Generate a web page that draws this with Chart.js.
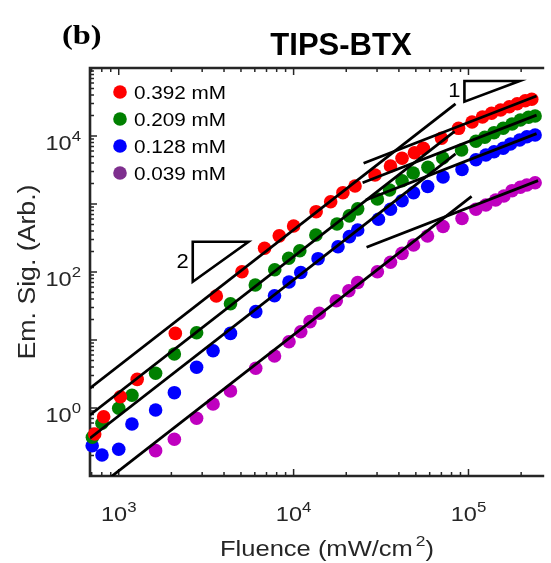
<!DOCTYPE html>
<html>
<head>
<meta charset="utf-8">
<title>TIPS-BTX</title>
<script src="https://cdn.jsdelivr.net/npm/chart.js@4.4.0/dist/chart.umd.min.js"></script>
<style>
  html, body { margin: 0; padding: 0; background: #fff; }
</style>
</head>
<body>
<canvas id="grafik" width="551" height="563"></canvas>
<script>
// Data: fluence (mW/cm2) dan sinyal emisi (Arb.)
const fluence392 = [729, 820, 1022, 1275, 2107, 3614, 5066, 6823, 8277, 10000, 13450, 16290, 19140, 22450, 29210, 35810, 41690, 49090, 55190, 70110, 87740, 104800, 120200, 135500, 152700, 171200, 189900, 211200, 230100];
const signal392 = [0.415, 0.745, 1.466, 2.64, 12.5, 44.4, 101, 223, 340, 475, 771, 1081, 1467, 1840, 2669, 3622, 4700, 5678, 6586, 9250, 12970, 16070, 19030, 21570, 24110, 26970, 29870, 33040, 34660];

const fluence209 = [707, 802, 1000, 1190, 1625, 2080, 2788, 4355, 6037, 7799, 9376, 10850, 13410, 17700, 20830, 23250, 30130, 35370, 41690, 48290, 58660, 71230, 91300, 110300, 124000, 140000, 157900, 177500, 197900, 220400, 240400];
const signal209 = [0.371, 0.596, 0.99, 1.54, 3.24, 6.22, 12.8, 34.2, 64.4, 108, 159, 205, 350, 508, 670, 849, 1185, 1607, 2194, 2857, 3466, 4747, 6223, 8356, 9570, 11190, 12980, 15010, 17180, 18840, 19680];

const fluence128 = [705, 802, 1000, 1190, 1625, 2080, 2788, 3463, 4355, 6074, 7776, 9408, 10990, 13800, 17940, 20850, 23250, 30560, 35810, 41690, 48480, 58450, 71540, 91830, 110300, 125700, 140000, 157900, 173800, 196200, 215700, 240400];
const signal128 = [0.279, 0.204, 0.247, 0.582, 0.935, 1.68, 3.97, 6.96, 12.5, 26.1, 44.8, 71.3, 98.4, 157, 235, 331, 415, 596, 836, 1119, 1466, 1808, 2494, 3214, 4478, 5254, 5878, 6594, 7625, 8730, 9770, 10340];

const fluence039 = [1625, 2080, 2788, 3463, 4355, 6074, 7776, 9408, 10990, 12410, 14020, 17540, 20690, 23250, 30130, 35810, 41690, 48480, 58290, 71540, 91830, 110300, 125700, 143000, 159400, 177500, 197900, 215700, 240400];
const signal039 = [0.236, 0.347, 0.706, 1.145, 1.78, 3.84, 5.82, 9.44, 13.2, 18.6, 24.7, 37.8, 53.1, 70.1, 101, 139, 188, 250, 338, 467, 612, 836, 967, 1145, 1312, 1570, 1762, 1903, 2057];

const seriesLabels = ['0.392 mM', '0.209 mM', '0.128 mM', '0.039 mM'];
const seriesColors = ['#ff0000', '#008000', '#0000ff', '#bf00bf'];
const legendColors = ['#ff0000', '#008000', '#0000ff', '#7e2f8e'];

// Garis fit: kemiringan 2 (fluence rendah) dan kemiringan 1 (fluence tinggi), titik ujung
const fitSlope2X = [[685, 84300], [685, 83300], [685, 84300], [886, 104200]];
const fitSlope2Y = [[1.956, 29620], [0.7916, 11706], [0.3597, 5447], [0.0935, 1292]];
const fitSlope1X = [[25130, 245000], [24810, 245000], [25900, 245000], [26130, 250000]];
const fitSlope1Y = [[3968, 38690], [2057, 20310], [1145, 10830], [230.8, 2208]];

// Segitiga penanda kemiringan [x kiri, x kanan], [y bawah, y atas]
const triSlope2 = { x: [2650, 5520], y: [72, 279], label: '2' };
const triSlope1 = { x: [94800, 196200], y: [31950, 64400], label: '1' };

// Label sumbu (eksponen 10^n)
const xTickExp = [3, 4, 5];
const yTickExp = [0, 2, 4];
const xRange = [685, 271000];
const yRange = [0.1, 100000];

const FONT = '"Liberation Sans", Arial, Helvetica, sans-serif';
const AXIS_COLOR = '#262626';

function gabung(xs, ys) {
  return xs.map((x, i) => ({ x: x, y: ys[i] }));
}

// Tulis teks dengan skala horizontal
function tulis(ctx, text, x, y, font, sx, align) {
  ctx.save();
  ctx.font = font;
  const w = ctx.measureText(text).width * sx;
  let x0 = x;
  if (align === 'center') x0 = x - w / 2;
  else if (align === 'right') x0 = x - w;
  ctx.translate(x0, y);
  ctx.scale(sx, 1);
  ctx.textAlign = 'left';
  ctx.textBaseline = 'alphabetic';
  ctx.fillText(text, 0, 0);
  ctx.restore();
  return w;
}

function lebar(ctx, text, font, sx) {
  ctx.save();
  ctx.font = font;
  const w = ctx.measureText(text).width * sx;
  ctx.restore();
  return w;
}

// "10" dengan pangkat
function tulisPangkat(ctx, exp, x, y, align) {
  const fBase = '21px ' + FONT, fExp = '15px ' + FONT, sx = 1.12;
  const w1 = lebar(ctx, '10', fBase, sx);
  const w2 = lebar(ctx, String(exp), fExp, sx);
  let x0 = x;
  if (align === 'center') x0 = x - (w1 + w2) / 2;
  else if (align === 'right') x0 = x - (w1 + w2);
  tulis(ctx, '10', x0, y, fBase, sx, 'left');
  tulis(ctx, String(exp), x0 + w1, y - 9, fExp, sx, 'left');
}

const datasets = [];
for (let i = 0; i < 4; i++) {
  datasets.push({
    label: 'fit2-' + i,
    data: gabung(fitSlope2X[i], fitSlope2Y[i]),
    showLine: true, borderColor: '#000', borderWidth: 2.8,
    pointRadius: 0, order: 0
  });
  datasets.push({
    label: 'fit1-' + i,
    data: gabung(fitSlope1X[i], fitSlope1Y[i]),
    showLine: true, borderColor: '#000', borderWidth: 2.8,
    pointRadius: 0, order: 0
  });
}
const seriesData = [
  gabung(fluence392, signal392),
  gabung(fluence209, signal209),
  gabung(fluence128, signal128),
  gabung(fluence039, signal039)
];
seriesData.forEach((d, i) => {
  datasets.push({
    label: seriesLabels[i],
    data: d,
    showLine: false,
    backgroundColor: seriesColors[i],
    borderColor: seriesColors[i],
    borderWidth: 0,
    pointRadius: 6.8,
    pointHoverRadius: 6.8,
    clip: false,
    order: 1 + i
  });
});

const gambarSumbu = {
  id: 'gambarSumbu',
  beforeDatasetsDraw(chart) {
    const ctx = chart.ctx;
    const a = chart.chartArea;
    const xs = chart.scales.x, ys = chart.scales.y;
    ctx.save();
    ctx.strokeStyle = AXIS_COLOR;
    ctx.lineWidth = 1.5;
    ctx.beginPath();
    for (let e = 2; e <= 5; e++) {
      for (let k = 1; k <= 9; k++) {
        const v = k * Math.pow(10, e);
        if (v < xRange[0] || v > xRange[1]) continue;
        const px = xs.getPixelForValue(v);
        const len = k === 1 ? 7 : 4;
        ctx.moveTo(px, a.bottom); ctx.lineTo(px, a.bottom - len);
        ctx.moveTo(px, a.top); ctx.lineTo(px, a.top + len);
      }
    }
    for (let e = -1; e <= 5; e++) {
      for (let k = 1; k <= 9; k++) {
        const v = k * Math.pow(10, e);
        if (v < yRange[0] * 0.999 || v > yRange[1] * 1.001) continue;
        const py = ys.getPixelForValue(v);
        const len = k === 1 ? 7 : 4;
        ctx.moveTo(a.left, py); ctx.lineTo(a.left + len, py);
      }
    }
    ctx.stroke();
    ctx.lineWidth = 2.6;
    ctx.beginPath();
    ctx.moveTo(a.right, a.top); ctx.lineTo(a.left, a.top);
    ctx.lineTo(a.left, a.bottom); ctx.lineTo(a.right, a.bottom);
    ctx.stroke();
    ctx.restore();
  },
  afterDraw(chart) {
    const ctx = chart.ctx;
    const a = chart.chartArea;
    const xs = chart.scales.x, ys = chart.scales.y;
    ctx.save();
    ctx.fillStyle = AXIS_COLOR;

    // label tick
    xTickExp.forEach(e => tulisPangkat(ctx, e, xs.getPixelForValue(Math.pow(10, e)), a.bottom + 45, 'center'));
    yTickExp.forEach(e => tulisPangkat(ctx, e, a.left - 9, ys.getPixelForValue(Math.pow(10, e)) + 14, 'right'));

    // judul sumbu x
    const fT = '22px ' + FONT, fS = '15px ' + FONT, sxT = 1.16;
    const t1 = 'Fluence (mW/cm', t2 = '2', t3 = ')';
    const w1 = lebar(ctx, t1, fT, sxT), w2 = lebar(ctx, t2, fS, sxT) + 3, w3 = lebar(ctx, t3, fT, sxT);
    let x0 = 327 - (w1 + w2 + w3) / 2;
    tulis(ctx, t1, x0, a.bottom + 80, fT, sxT, 'left');
    tulis(ctx, t2, x0 + w1 + 3, a.bottom + 70, fS, sxT, 'left');
    tulis(ctx, t3, x0 + w1 + w2, a.bottom + 80, fT, sxT, 'left');

    // judul sumbu y
    ctx.save();
    ctx.translate(35, 272);
    ctx.rotate(-Math.PI / 2);
    tulis(ctx, 'Em. Sig. (Arb.)', 0, 0, '23px ' + FONT, 1.16, 'center');
    ctx.restore();

    // judul grafik dan label panel
    ctx.fillStyle = '#000';
    tulis(ctx, 'TIPS-BTX', 341, 55, 'bold 32px ' + FONT, 0.97, 'center');
    tulis(ctx, '(b)', 62, 44, 'bold 27px "Liberation Serif", "Times New Roman", serif', 1.2, 'left');

    // legenda
    seriesLabels.forEach((lbl, i) => {
      const cy = a.top + 24 + i * 27;
      ctx.fillStyle = legendColors[i];
      ctx.beginPath();
      ctx.arc(a.left + 30, cy, 6.8, 0, Math.PI * 2);
      ctx.fill();
      ctx.fillStyle = '#000';
      tulis(ctx, lbl, a.left + 44, cy + 6.5, '18px ' + FONT, 1.15, 'left');
    });

    // segitiga kemiringan
    ctx.strokeStyle = '#000';
    ctx.lineWidth = 2.6;
    ctx.lineJoin = 'miter';
    [triSlope2, triSlope1].forEach(t => {
      const xl = xs.getPixelForValue(t.x[0]), xr = xs.getPixelForValue(t.x[1]);
      const yb = ys.getPixelForValue(t.y[0]), yt = ys.getPixelForValue(t.y[1]);
      ctx.beginPath();
      ctx.moveTo(xl, yb); ctx.lineTo(xl, yt); ctx.lineTo(xr, yt); ctx.closePath();
      ctx.stroke();
      tulis(ctx, t.label, xl - 4, (yb + yt) / 2 + 6, '20px ' + FONT, 1.1, 'right');
    });
    ctx.restore();
  }
};

new Chart(document.getElementById('grafik').getContext('2d'), {
  type: 'scatter',
  data: { datasets: datasets },
  options: {
    responsive: false,
    animation: false,
    devicePixelRatio: 1,
    layout: { padding: { left: 90, top: 68, right: 0, bottom: 87 } },
    plugins: { legend: { display: false }, tooltip: { enabled: false }, title: { display: false } },
    scales: {
      x: { type: 'logarithmic', min: xRange[0], max: xRange[1], bounds: 'data', display: false },
      y: { type: 'logarithmic', min: yRange[0], max: yRange[1], bounds: 'data', display: false }
    }
  },
  plugins: [gambarSumbu]
});
</script>
</body>
</html>
